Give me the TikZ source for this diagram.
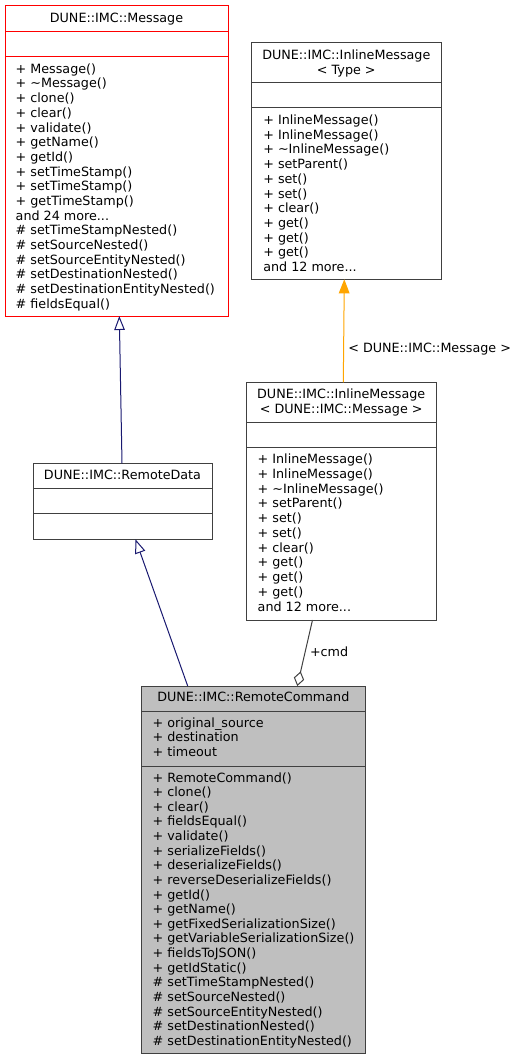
\documentclass[tikz,border=0pt]{standalone}
\usepackage{fontspec}
\setmainfont{DejaVu Sans}
\usetikzlibrary{arrows.meta,calc,fit}
\definecolor{edgeblue}{HTML}{191970}
\definecolor{edgeorange}{HTML}{FFA500}
\definecolor{edgegray}{HTML}{404040}
\definecolor{boxgray}{HTML}{BFBFBF}
\definecolor{boxline}{HTML}{404040}
\newcommand{\mydots}{...}
\begin{document}
\begin{tikzpicture}[x=0.75pt,y=-0.75pt,
  every node/.style={font=\fontsize{9.55}{11}\selectfont, inner sep=0pt, outer sep=0pt},
  cls/.style={draw=boxline, line width=0.75pt},
  clsred/.style={draw=red, line width=0.75pt},
  divline/.style={draw=boxline, line width=0.75pt},
  divred/.style={draw=red, line width=0.75pt},
  txt/.style={anchor=base west},
  ttl/.style={anchor=base},
  inh/.style={draw=edgeblue, line width=0.75pt, -{Triangle[open, length=10.5pt, width=7.9pt]}},
  tmpl/.style={draw=edgeorange, line width=0.75pt, -{Triangle[length=10.5pt, width=8pt, fill=edgeorange]}},
  agg/.style={draw=edgegray, line width=0.75pt, {Diamond[open, length=11.25pt, width=7.9pt]}-},
  elabel/.style={anchor=base west}
]
\useasboundingbox (0,0) rectangle (519,1061);

% ---------------- DUNE::IMC::Message ----------------
\node[clsred, fit={(5,5) (228,316)}] (msg) {};
\draw[divred] ($(msg.north west)+(0,26)$) -- ($(msg.north east)+(0,26)$);
\draw[divred] ($(msg.north west)+(0,51.7)$) -- ($(msg.north east)+(0,51.7)$);
\node[ttl] (msgt) at (116.5,22) {DUNE::IMC::Message};
\foreach \t [count=\i from 0] in {{+ Message()},{+ \textasciitilde Message()},{+ clone()},{+ clear()},{+ validate()},{+ getName()},{+ getId()},{+ setTimeStamp()},{+ setTimeStamp()},{+ getTimeStamp()},{and 24 more\mydots},{\# setTimeStampNested()},{\# setSourceNested()},{\# setSourceEntityNested()},{\# setDestinationNested()},{\# setDestinationEntityNested()},{\# fieldsEqual()}}
  \node[txt] (msgm\i) at (15.7,73.3+14.69*\i) {\t};

% ---------------- DUNE::IMC::InlineMessage< Type > ----------------
\node[cls, fit={(251.7,42.7) (441,279.3)}] (imt) {};
\draw[divline] ($(imt.north west)+(0,39.6)$) -- ($(imt.north east)+(0,39.6)$);
\draw[divline] ($(imt.north west)+(0,65)$) -- ($(imt.north east)+(0,65)$);
\node[ttl] (imtt1) at (346.3,59.4) {DUNE::IMC::InlineMessage};
\node[ttl] (imtt2) at (346.3,74.1) {< Type >};
\foreach \t [count=\i from 0] in {{+ InlineMessage()},{+ InlineMessage()},{+ \textasciitilde InlineMessage()},{+ setParent()},{+ set()},{+ set()},{+ clear()},{+ get()},{+ get()},{+ get()},{and 12 more\mydots}}
  \node[txt] (imtm\i) at (263.3,124.3+14.74*\i) {\t};

% ---------------- DUNE::IMC::InlineMessage< DUNE::IMC::Message > ----------------
\node[cls, fit={(246.3,382.3) (436,620)}] (im) {};
\draw[divline] ($(im.north west)+(0,40.4)$) -- ($(im.north east)+(0,40.4)$);
\draw[divline] ($(im.north west)+(0,65.4)$) -- ($(im.north east)+(0,65.4)$);
\node[ttl] (imt1) at (341.2,398.6) {DUNE::IMC::InlineMessage};
\node[ttl] (imt2) at (341.2,413.2) {< DUNE::IMC::Message >};
\foreach \t [count=\i from 0] in {{+ InlineMessage()},{+ InlineMessage()},{+ \textasciitilde InlineMessage()},{+ setParent()},{+ set()},{+ set()},{+ clear()},{+ get()},{+ get()},{+ get()},{and 12 more\mydots}}
  \node[txt] (imm\i) at (257.7,463.6+14.74*\i) {\t};

% ---------------- DUNE::IMC::RemoteData ----------------
\node[cls, fit={(33,463.3) (212,539.3)}] (rd) {};
\draw[divline] ($(rd.north west)+(0,25.4)$) -- ($(rd.north east)+(0,25.4)$);
\draw[divline] ($(rd.north west)+(0,50.4)$) -- ($(rd.north east)+(0,50.4)$);
\node[ttl] (rdt) at (122.5,479.2) {DUNE::IMC::RemoteData};

% ---------------- DUNE::IMC::RemoteCommand ----------------
\node[cls, fill=boxgray, fit={(141.3,686) (365.3,1053.5)}] (rc) {};
\draw[divline] ($(rc.north west)+(0,25.7)$) -- ($(rc.north east)+(0,25.7)$);
\draw[divline] ($(rc.north west)+(0,80)$) -- ($(rc.north east)+(0,80)$);
\node[ttl] (rct) at (253.3,701) {DUNE::IMC::RemoteCommand};
\foreach \t [count=\i from 0] in {{+ original\_source},{+ destination},{+ timeout}}
  \node[txt] (rca\i) at (152.7,727+14.7*\i) {\t};
\foreach \t [count=\i from 0] in {{+ RemoteCommand()},{+ clone()},{+ clear()},{+ fieldsEqual()},{+ validate()},{+ serializeFields()},{+ deserializeFields()},{+ reverseDeserializeFields()},{+ getId()},{+ getName()},{+ getFixedSerializationSize()},{+ getVariableSerializationSize()},{+ fieldsToJSON()},{+ getIdStatic()},{\# setTimeStampNested()},{\# setSourceNested()},{\# setSourceEntityNested()},{\# setDestinationNested()},{\# setDestinationEntityNested()}}
  \node[txt] (rcm\i) at (152.7,782+14.63*\i) {\t};

% ---------------- connectors ----------------
\draw[inh] ($(rd.north west)+(89,0)$) -- ($(msg.south west)+(114.3,0)$);
\draw[inh] ($(rc.north west)+(46.4,0)$) -- ($(rd.south west)+(102.5,0)$);
\draw[tmpl] ($(im.north west)+(97,0)$) -- ($(imt.south west)+(92.6,0)$);
\node[elabel] (lbl1) at (348.3,352.6) {< DUNE::IMC::Message >};
\draw[agg] ($(rc.north west)+(156,0)$) -- ($(im.south west)+(66.2,0)$);
\node[elabel] (lbl2) at (310,656.5) {+cmd};
\end{tikzpicture}
\end{document}
